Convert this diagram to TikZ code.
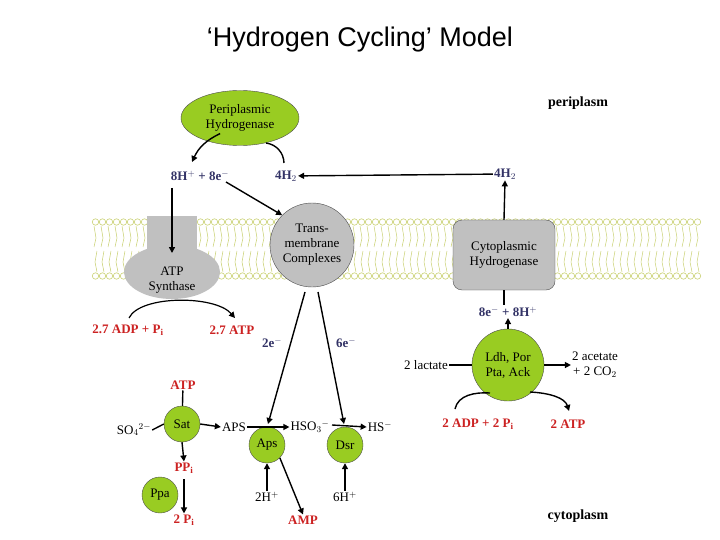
\documentclass[tikz,border=0pt]{standalone}
\usepackage{fontspec}
\setmainfont{Liberation Serif}
\newfontfamily\titlefont{Liberation Sans}
\usetikzlibrary{arrows.meta,shapes.geometric}
\definecolor{ygreen}{HTML}{99CC22}
\definecolor{memb}{HTML}{C8D070}
\definecolor{dblue}{HTML}{333366}
\definecolor{dred}{HTML}{CC2222}
\definecolor{gbox}{HTML}{C0C0C0}
\tikzset{
  lbl/.style={font=\fontsize{13}{15}\selectfont, inner sep=1pt, align=center},
  blue/.style={lbl, text=dblue, font=\fontsize{13}{15}\selectfont\bfseries},
  red/.style={lbl, text=dred, font=\fontsize{13}{15}\selectfont\bfseries},
  enz/.style={circle, draw=black!70, fill=ygreen, minimum size=36pt, inner sep=0pt, font=\fontsize{13}{15}\selectfont, align=center},
  arr/.style={-{Triangle[length=6pt,width=6pt]}, line width=1.4pt},
  ln/.style={line width=1.4pt},
}
\begin{document}
\begin{tikzpicture}[x=1pt,y=-1pt]
\useasboundingbox (0,0) rectangle (720,540);
\node[font=\titlefont\fontsize{27}{30}\selectfont] (title) at (360,40) {‘Hydrogen Cycling’ Model};
\node[lbl, font=\fontsize{14}{16}\selectfont\bfseries] (peri) at (578,103) {periplasm};
\node[lbl, font=\fontsize{14}{16}\selectfont\bfseries] (cyto) at (578,516) {cytoplasm};
% membrane
\foreach \x in {92,99,...,700} {
  \draw[memb, line width=0.6pt] (\x+3.5,222) circle (3.2);
  \draw[memb, line width=0.6pt] (\x+3.5,276) circle (3.2);
  \draw[memb, line width=0.5pt] (\x+2,226) -- (\x+4,238) -- (\x+2,247);
  \draw[memb, line width=0.5pt] (\x+5,251) -- (\x+3,262) -- (\x+5,272);
}
% ATP synthase
\fill[gbox] (147,216) rectangle (197,262);
\node[ellipse, fill=gbox, minimum width=96pt, minimum height=54pt, inner sep=0pt] (atps) at (172,272) {};
\node[lbl] (atpst) at (172,280) {ATP\\Synthase};
% periplasmic hydrogenase
\node[ellipse, draw=black!70, fill=ygreen, minimum width=118pt, minimum height=55pt, inner sep=0pt, lbl] (ph) at (240,118) {Periplasmic\\Hydrogenase};
\node[blue] (hp) at (200,176) {8H$^{+}$ + 8e$^{-}$};
\node[blue] (h2a) at (286,176) {4H$_2$};
\node[blue] (h2b) at (505,174) {4H$_2$};
\draw[arr] (ph.south west)++(22,-4) to[bend right=20] (192,162);
\draw[ln] (284,163) to[bend right=40] (266,143);
\draw[arr] (h2b) -- (h2a);
% trans
\node[circle, draw=black!70, fill=gbox, minimum size=84pt, inner sep=0pt, lbl] (tm) at (312,245) {Trans-\\membrane\\Complexes};
\draw[arr] (226,182) -- (tm.north west);
\draw[arr] (172,188) -- (172,253);
% cytoplasmic hydrogenase
\node[draw=black!70, fill=gbox, rounded corners=9pt, minimum width=102pt, minimum height=70pt, lbl] (ch) at (504,255) {Cytoplasmic\\Hydrogenase};
\draw[arr] (ch.north) -- (h2b.south);
\node[blue] (e8) at (508,312) {8e$^{-}$ + 8H$^{+}$};
\draw[ln] (ch.south) -- (504,305);
% ATP cycle
\node[red] (adp1) at (128,330) {2.7 ADP + P$_{\mathbf i}$};
\node[red] (atp1) at (232,330) {2.7 ATP};
\draw[arr, line width=1.2pt] (129,318) .. controls (140,295) and (215,295) .. (235,318);
% electrons
\node[enz] (aps) at (267,445) {Aps};
\node[enz] (dsr) at (345,445) {Dsr};
\draw[arr] (305,292) -- (268,424);
\draw[arr] (318,292) -- (344,424);
\node[blue] (e2) at (272,343) {2e$^{-}$};
\node[blue] (e6) at (346,343) {6e$^{-}$};
% sulfate
\node[red] (atp2) at (183,385) {ATP};
\node[enz] (sat) at (182,424) {Sat};
\node[lbl] (so4) at (134,430) {SO$_4$$^{2-}$};
\draw[ln] (atp2) -- (sat);
\draw[ln] (so4.east) -- (sat.west);
\node[lbl] (apsl) at (234,427) {APS};
\draw[arr] (sat.east) -- (apsl.west);
\node[red] (ppi) at (184,468) {PP$_{\mathbf i}$};
\draw[arr] (sat.south) -- (ppi.north);
\node[enz] (ppa) at (160,495) {Ppa};
\node[red] (pi2) at (184,520) {2 P$_{\mathbf i}$};
\draw[arr] (184,479) -- (pi2.north);
\node[lbl] (hso3) at (310,427) {HSO$_3$$^{-}$};
\node[lbl] (hs) at (380,427) {HS$^{-}$};
\draw[arr] (apsl.east) -- (hso3.west);
\draw[arr] (332,425) -- (hs.west);
\node[lbl] (h2p) at (267,497) {2H$^{+}$};
\node[lbl] (h6p) at (345,497) {6H$^{+}$};
\draw[arr] (h2p.north) -- (aps.south);
\draw[arr] (h6p.north) -- (dsr.south);
\node[red] (amp) at (303,520) {AMP};
\draw[arr] (aps.south east) -- (amp.north);
% lactate
\node[enz, minimum size=72pt] (ldh) at (508,365) {Ldh, Por\\Pta, Ack};
\node[lbl] (lac) at (426,365) {2 lactate};
\draw[ln] (lac.east) -- (ldh.west);
\draw[arr] (ldh.north) -- (e8.south);
\node[lbl] (ac) at (595,365) {2 acetate\\+ 2 CO$_2$};
\draw[arr] (ldh.east) -- (ac.west);
\node[red] (adp2) at (478,424) {2 ADP + 2 P$_{\mathbf i}$};
\node[red] (atp3) at (568,424) {2 ATP};
\draw[ln] (455,409) .. controls (458,395) and (475,392) .. (490,393);
\draw[arr] (530,392) .. controls (550,393) and (565,398) .. (569,411);
\end{tikzpicture}
\end{document}
